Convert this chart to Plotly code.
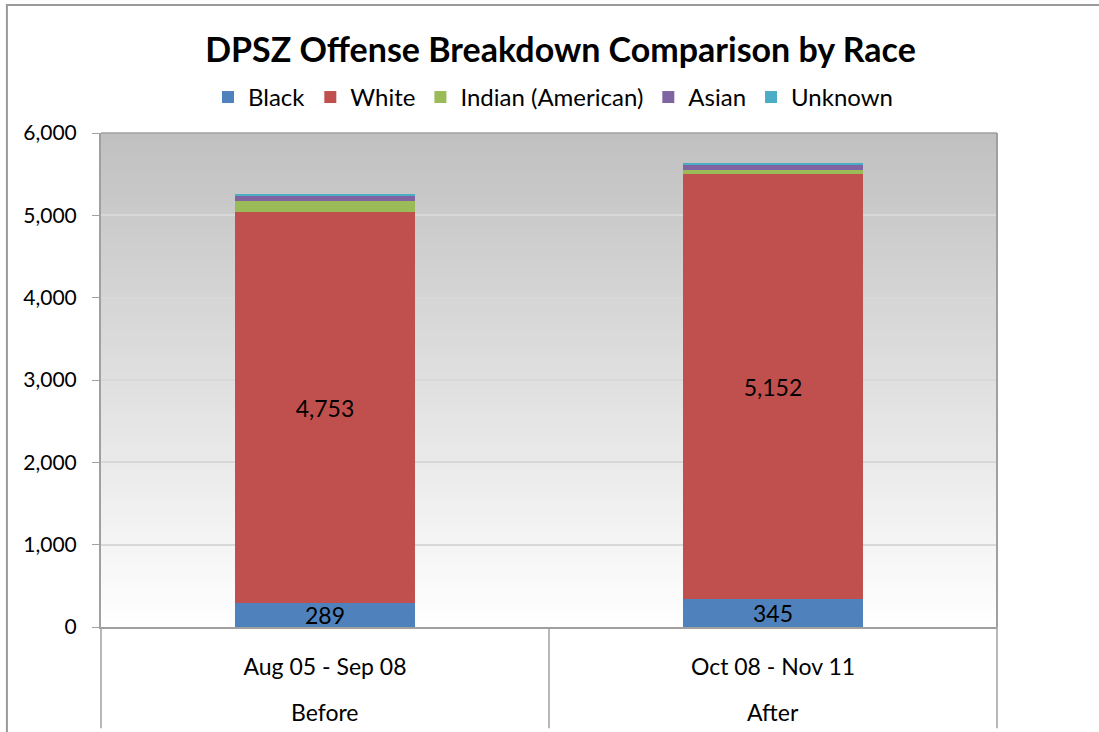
import plotly.graph_objects as go

periods = ["Aug 05 - Sep 08", "Oct 08 - Nov 11"]
groups = ["Before", "After"]
series_names = ["Black", "White", "Indian (American)", "Asian", "Unknown"]
black = [289, 345]
white = [4753, 5152]
indian = [135, 50]
asian = [65, 70]
unknown = [15, 15]
y_ticks = [0, 1000, 2000, 3000, 4000, 5000, 6000]

colors = ["#4F81BD", "#C0504D", "#9BBB59", "#8064A2", "#4BACC6"]
values = [black, white, indian, asian, unknown]
labelled = [True, True, False, False, False]

FONT = "Lato"
fig = go.Figure()
for name, vals, col, lab in zip(series_names, values, colors, labelled):
    fig.add_trace(go.Bar(
        x=periods, y=vals, name=name,
        marker=dict(color=col, line=dict(width=0)),
        text=[f"{v:,}" for v in vals] if lab else None,
        textposition="inside" if lab else "none",
        insidetextanchor="middle",
        constraintext="none",
        textfont=dict(family=FONT, size=23, color="#000000"),
        hoverinfo="name+y",
    ))

shapes = []
# gradient plot background (overlapping bands, no seams)
N = 80
for i in range(N):
    g = int(round(192 + (255 - 192) * (1 - (i + 0.5) / N)))
    shapes.append(dict(type="rect", xref="x domain", yref="y domain",
                       x0=0, x1=1, y0=i / N, y1=1,
                       fillcolor=f"rgb({g},{g},{g})", line=dict(width=0), layer="below"))
# frame lines of plot area
shapes.append(dict(type="line", xref="x domain", yref="y domain", x0=1, x1=1, y0=0, y1=1,
                   line=dict(color="#A0A0A0", width=2)))
shapes.append(dict(type="line", xref="x domain", yref="y domain", x0=0, x1=1, y0=1, y1=1,
                   line=dict(color="#A0A0A0", width=1.5)))
# category dividers
for xv in [0, 0.5, 1]:
    shapes.append(dict(type="line", xref="x domain", yref="paper", x0=xv, x1=xv,
                       y0=0, y1=-0.205, line=dict(color="#A0A0A0", width=1.5)))
# outer chart border
shapes.append(dict(type="rect", xref="paper", yref="paper",
                   x0=-0.105, x1=1.12, y0=-0.3, y1=1.259,
                   line=dict(color="#9A9A9A", width=2), fillcolor="rgba(0,0,0,0)"))

annotations = []
for i, gname in enumerate(groups):
    annotations.append(dict(x=0.25 + 0.5 * i, xref="x domain", y=-0.172, yref="paper",
                            xanchor="center", yanchor="middle",
                            text=gname, showarrow=False,
                            font=dict(family=FONT, size=23, color="#000000")))

fig.update_layout(
    barmode="stack",
    bargap=0.6,
    width=1099, height=732,
    margin=dict(l=101, r=102, t=133, b=105),
    paper_bgcolor="white",
    plot_bgcolor="rgba(0,0,0,0)",
    title=dict(text="<b>DPSZ Offense Breakdown Comparison by Race</b>",
               x=0.51, xanchor="center", y=0.932, yanchor="middle",
               font=dict(family=FONT, size=34, color="#000000")),
    legend=dict(orientation="h", x=0.505, xanchor="center", y=1.072, yanchor="middle",
                font=dict(family=FONT, size=24, color="#000000"),
                itemwidth=30, traceorder="normal", bgcolor="rgba(0,0,0,0)"),
    xaxis=dict(showgrid=False, showline=True, linecolor="#A0A0A0", linewidth=2,
               ticks="", tickfont=dict(family=FONT, size=23, color="#000000"),
               ticklabelstandoff=18, fixedrange=True),
    yaxis=dict(range=[0, 6000], tickvals=y_ticks, tickformat=",d",
               showgrid=True, gridcolor="#D8D8D8", gridwidth=1.5,
               showline=True, linecolor="#A0A0A0", linewidth=2,
               ticks="outside", ticklen=7, tickcolor="#A0A0A0",
               ticklabelstandoff=11,
               tickfont=dict(family=FONT, size=21, color="#000000"),
               zeroline=False),
    shapes=shapes,
    annotations=annotations,
    showlegend=True,
)

fig.write_html("out.html", config={"displayModeBar": False},
               post_script="document.body.style.margin='0';document.body.style.overflow='hidden';")
